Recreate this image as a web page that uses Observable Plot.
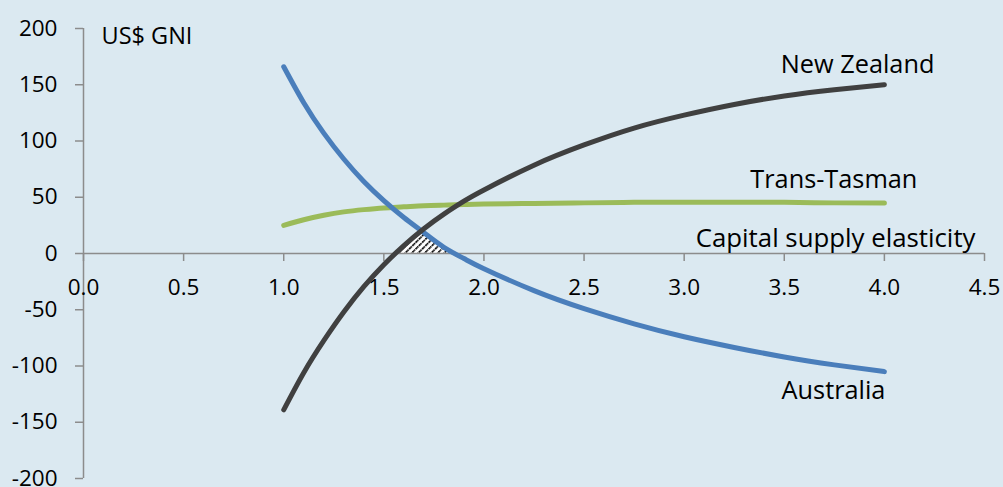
<!DOCTYPE html>
<html>
<head>
<meta charset="utf-8">
<script src="https://cdn.jsdelivr.net/npm/d3@7"></script>
<script src="https://cdn.jsdelivr.net/npm/@observablehq/plot@0.6"></script>
<style>
  html, body { margin: 0; padding: 0; background: #dbe9f1; }
  #chart svg { display: block; }
</style>
</head>
<body>
<div id="chart"></div>
<script>
// Capital supply elasticity (x) and welfare change in US$ GNI for each economy
const elasticity  = [1.0, 1.1, 1.2, 1.3, 1.4, 1.5, 1.6, 1.7, 1.8, 1.9, 2.0, 2.25, 2.5, 2.75, 3.0, 3.25, 3.5, 3.75, 4.0];
const australia   = [166, 134, 107, 84, 64, 47, 32, 18.5, 5.5, -4.5, -13.5, -33, -49, -62.5, -74, -83.5, -92, -99, -105];
const newZealand  = [-139, -106, -77.5, -52, -29.5, -10, 7, 22, 35, 46.5, 56.5, 78.5, 96.5, 111.5, 123, 132.5, 140, 145.5, 150];
const transTasman = [25, 30, 34, 37, 39, 40.5, 41.5, 42.5, 43, 43.5, 44, 44.5, 45, 45.5, 45.5, 45.5, 45.5, 45, 45];

const xTicks = [0, 0.5, 1.0, 1.5, 2.0, 2.5, 3.0, 3.5, 4.0, 4.5];
const yTicks = [-200, -150, -100, -50, 0, 50, 100, 150, 200];

const seriesNames = ["Trans-Tasman", "Australia", "New Zealand"];
const axisTitleX = "Capital supply elasticity";
const axisTitleY = "US$ GNI";

const colors = {"Australia": "#4a7ebb", "New Zealand": "#404040", "Trans-Tasman": "#9bbb59"};
const axisGrey = "#8c8c8c";
const bg = "#dbe9f1";
const font = "'Open Sans', Lato, sans-serif";

const seriesValues = {"Australia": australia, "New Zealand": newZealand, "Trans-Tasman": transTasman};
const rows = (name) => elasticity.map((x, i) => ({x, y: seriesValues[name][i], series: name}));

// Region where both countries gain: lower envelope of the two curves, above zero.
function bothGain() {
  const pts = [];
  const lerp = (a, b, t) => a + (b - a) * t;
  for (let i = 0; i < elasticity.length; i++) {
    pts.push(elasticity[i]);
    if (i === elasticity.length - 1) break;
    const diffs = [
      [newZealand[i], newZealand[i + 1]],
      [australia[i], australia[i + 1]],
      [newZealand[i] - australia[i], newZealand[i + 1] - australia[i + 1]]
    ];
    for (const [a, b] of diffs) {
      if ((a < 0 && b > 0) || (a > 0 && b < 0)) {
        pts.push(lerp(elasticity[i], elasticity[i + 1], a / (a - b)));
      }
    }
  }
  pts.sort((a, b) => a - b);
  const at = (arr, x) => {
    let j = d3.bisectRight(elasticity, x) - 1;
    j = Math.max(0, Math.min(elasticity.length - 2, j));
    const t = (x - elasticity[j]) / (elasticity[j + 1] - elasticity[j]);
    return lerp(arr[j], arr[j + 1], t);
  };
  return pts.map(x => ({x, y: Math.max(0, Math.min(at(newZealand, x), at(australia, x)))}));
}

// Series labels sit beside each curve's end point
const labelOffsets = {
  "New Zealand": {dx: 50, dy: -20},
  "Trans-Tasman": {dx: 33, dy: -23},
  "Australia": {dx: 1, dy: 19}
};
const endLabels = seriesNames.map(name => Plot.text([rows(name)[elasticity.length - 1]], {
  x: "x", y: "y", text: () => name, textAnchor: "end",
  dx: labelOffsets[name].dx, dy: labelOffsets[name].dy, fontSize: 25.3, fill: "#000"
}));

const chart = Plot.plot({
  width: 1003,
  height: 487,
  marginLeft: 83,
  marginRight: 19,
  marginTop: 28,
  marginBottom: 9,
  x: {domain: [0, 4.5], axis: null},
  y: {domain: [-200, 200], axis: null},
  style: {background: bg, fontFamily: font, color: "#000", overflow: "visible"},
  marks: [
    Plot.areaY(bothGain(), {x: "x", y1: 0, y2: "y", fill: "url(#gain-hatch)"}),
    // axes
    Plot.ruleX([0], {stroke: axisGrey, strokeWidth: 1.5}),
    Plot.ruleY([0], {stroke: axisGrey, strokeWidth: 1.5}),
    Plot.ruleY(yTicks, {y: d => d, x1: 0, x2: 0, insetLeft: -8, stroke: axisGrey, strokeWidth: 1.5}),
    Plot.ruleX(xTicks, {x: d => d, y1: 0, y2: 0, insetBottom: -8, stroke: axisGrey, strokeWidth: 1.5}),
    Plot.text(yTicks, {y: d => d, frameAnchor: "left", dx: -26, textAnchor: "end", text: d => String(d), fontSize: 22.5, fill: "#000"}),
    Plot.text(xTicks, {x: d => d, y: 0, dy: 34, text: d => d.toFixed(1), fontSize: 22.5, fill: "#000"}),
    // series
    ...seriesNames.map(name => Plot.line(rows(name), {
      x: "x", y: "y", stroke: colors[name], strokeWidth: 5,
      curve: "natural", strokeLinecap: "round", strokeLinejoin: "round"
    })),
    ...endLabels,
    // axis titles
    Plot.text([axisTitleX], {x: 4.5, y: 0, text: d => d, textAnchor: "end", dx: -9, dy: -15, fontSize: 25.8, fill: "#000"}),
    Plot.text([axisTitleY], {x: 0, y: 200, text: d => d, textAnchor: "start", dx: 18, dy: 8, fontSize: 23.5, fill: "#000"})
  ]
});

// dotted diagonal hatch used for the both-gain region
chart.insertAdjacentHTML("afterbegin", `
<defs>
  <pattern id="gain-hatch" patternUnits="userSpaceOnUse" width="4.6" height="4.6" patternTransform="rotate(45)">
    <rect width="4.6" height="4.6" fill="#ffffff"/>
    <line x1="0.8" y1="0" x2="0.8" y2="4.6" stroke="#000" stroke-width="1.6" stroke-dasharray="1.8 0.7"/>
  </pattern>
</defs>`);

document.getElementById("chart").appendChild(chart);
</script>
</body>
</html>
